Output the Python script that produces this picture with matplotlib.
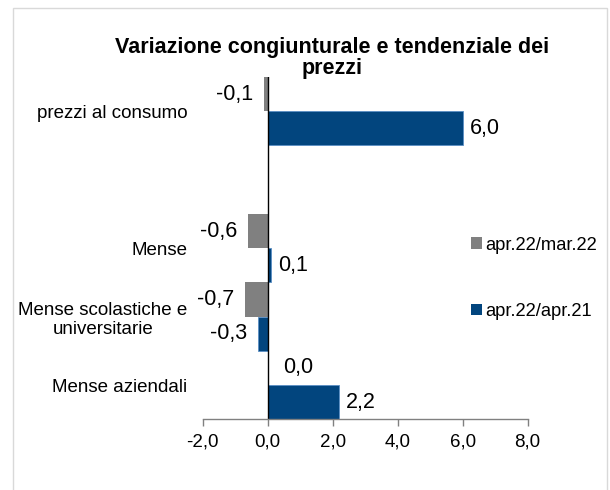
import numpy as np
import matplotlib
matplotlib.use('Agg')
import matplotlib.pyplot as plt
from matplotlib.patches import Patch, Rectangle

plt.rcParams['font.family'] = ['Liberation Sans', 'DejaVu Sans']

# data
categories = ['prezzi al consumo', '', 'Mense', 'Mense scolastiche e\nuniversitarie', 'Mense aziendali']
cong = [-0.1, np.nan, -0.6, -0.7, 0.0]   # apr.22/mar.22
tend = [6.0, np.nan, 0.1, -0.3, 2.2]     # apr.22/apr.21
series_names = ['apr.22/mar.22', 'apr.22/apr.21']
xticks = [-2, 0, 2, 4, 6, 8]

grey = '#808080'
blue = '#02457e'

fig = plt.figure(figsize=(6.1, 4.9), dpi=100)
ax = fig.add_axes([0.3323, 0.1443, 0.8650 - 0.3323, 0.8429 - 0.1443])

y = np.arange(len(categories))
h = 0.5
ax.barh(y - h / 2, cong, height=h, color=grey, edgecolor='none')
ax.barh(y + h / 2, tend, height=h, color=blue, edgecolor='#5a8fc4', linewidth=0.6)

def fmt(v):
    return f'{v:.1f}'.replace('.', ',')

for vals, off in [(cong, -h / 2), (tend, h / 2)]:
    for yi, v in zip(y, vals):
        if np.isnan(v):
            continue
        if v < 0:
            ax.annotate(fmt(v), (v, yi + off), xytext=(-8, 0), textcoords='offset points',
                        ha='right', va='center', fontsize=15.5)
        else:
            dx = 11 if v == 0 else 5
            ax.annotate(fmt(v), (v, yi + off), xytext=(dx, 0), textcoords='offset points',
                        ha='left', va='center', fontsize=15.5)

ax.set_xlim(-2, 8)
ax.set_ylim(len(categories) - 0.5, -0.5)
ax.set_xticks(xticks)
ax.set_xticklabels([fmt(t) for t in xticks], fontsize=13.5)
ax.set_yticks(y)
ax.set_yticklabels(categories, fontsize=13.5, multialignment='center')
ax.tick_params(axis='y', length=0, pad=11)
ax.tick_params(axis='x', length=5, width=1, color=grey, pad=5)

for s in ['top', 'right', 'left']:
    ax.spines[s].set_visible(False)
ax.spines['bottom'].set_color(grey)
ax.spines['bottom'].set_linewidth(1)
ax.axvline(0, color='black', linewidth=1)

fig.text(0.545, 0.882, 'Variazione congiunturale e tendenziale dei\nprezzi',
         ha='center', va='center', fontsize=15.5, fontweight='bold', linespacing=1.0)

handles = [Patch(facecolor=grey), Patch(facecolor=blue)]
fig.legend(handles, series_names, loc='center left', bbox_to_anchor=(0.745, 0.432),
           frameon=False, fontsize=13.2, handlelength=0.6, handleheight=0.6,
           handletextpad=0.2, labelspacing=2.7)

fig.patches.append(Rectangle((13 / 610, -0.01), 594 / 610, 1 - 8 / 490 + 0.01,
                             transform=fig.transFigure, fill=False,
                             edgecolor='#d9d9d9', linewidth=1))

fig.savefig('out.png', dpi=100)
